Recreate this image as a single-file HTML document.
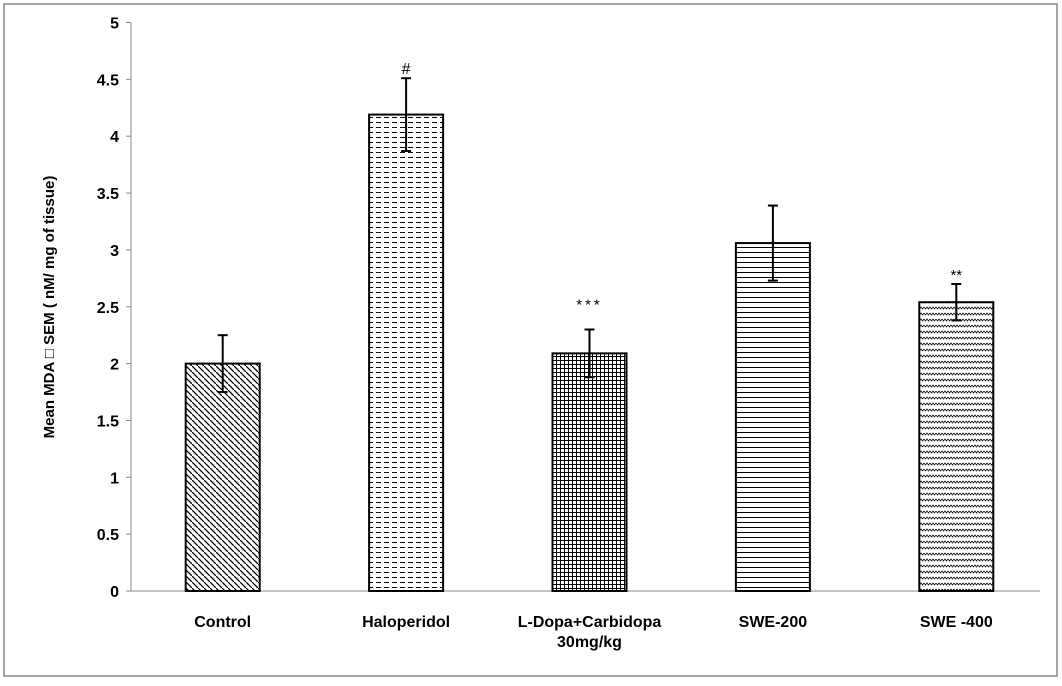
<!DOCTYPE html>
<html><head><meta charset="utf-8"><style>
body{margin:0;background:#fff;}
svg text{font-family:"Liberation Sans",Arial,sans-serif;}
</style></head><body>
<svg width="1062" height="681" xmlns="http://www.w3.org/2000/svg">
<defs>
<pattern id="p0" width="6" height="6" patternUnits="userSpaceOnUse"><rect width="6" height="6" fill="#fff"/><path d="M-1,1 L1,-1 M0,0 L6,6 M5,7 L7,5" stroke="#000" stroke-width="1.3"/></pattern>
<pattern id="p1" width="8" height="5" patternUnits="userSpaceOnUse"><rect width="8" height="5" fill="#fff"/><path d="M0,2.5 L5,2.5" stroke="#000" stroke-width="1"/></pattern>
<pattern id="p2" width="4" height="4" patternUnits="userSpaceOnUse"><rect width="4" height="4" fill="#fff"/><path d="M0,0.5 L4,0.5 M0.5,0 L0.5,4" stroke="#000" stroke-width="1"/></pattern>
<pattern id="p3" width="4" height="5" patternUnits="userSpaceOnUse"><rect width="4" height="5" fill="#fff"/><path d="M0,2.5 L4,2.5" stroke="#000" stroke-width="1"/></pattern>
<pattern id="p4" width="6" height="6" patternUnits="userSpaceOnUse"><rect width="6" height="6" fill="#fff"/><path d="M0,1 L1.5,3 L3,1 L4.5,3 L6,1" stroke="#000" stroke-width="0.8" fill="none"/></pattern>
</defs>
<rect x="4" y="4" width="1053" height="672" fill="#fff" stroke="#888" stroke-width="1.5"/>
<g id="g"></g>
<text transform="translate(54,307) rotate(-90)" text-anchor="middle" font-size="15" font-weight="bold">Mean MDA □ SEM ( nM/ mg of tissue)</text>
</svg>
<script>
const categories=["Control","Haloperidol","L-Dopa+Carbidopa|30mg/kg","SWE-200","SWE -400"];
const values=[2.0,4.19,2.09,3.06,2.54];
const errors=[0.25,0.32,0.21,0.33,0.16];
const marks=["","#","***","","**"];
const yTicks=[0,0.5,1,1.5,2,2.5,3,3.5,4,4.5,5];
const NS="http://www.w3.org/2000/svg";
const g=document.getElementById('g');
const x0=131,x1=1048,yTop=22.5,yBot=591,yMax=5;
const y=v=>yBot-(v/yMax)*(yBot-yTop);
const band=(x1-x0)/categories.length;
const xc=i=>x0+band*(i+0.5);
function el(t,a){const e=document.createElementNS(NS,t);for(const k in a)e.setAttribute(k,a[k]);g.appendChild(e);return e;}
let ax=el('line',{x1:x0,y1:yTop,x2:x0,y2:yBot,stroke:'#888','stroke-width':1});


let bx=el('line',{x1:x0,y1:yBot,x2:1040,y2:yBot,stroke:'#888','stroke-width':1});


yTicks.forEach(t=>{
  el('line',{x1:x0-5,y1:y(t),x2:x0,y2:y(t),stroke:'#888'});
  const tx=el('text',{x:x0-12,y:y(t)+6,'text-anchor':'end','font-size':16,'font-weight':'bold'});
  tx.textContent=t;
  
  
});
categories.forEach((c,i)=>{
  const cx=xc(i),w=74;
  const r=el('rect',{x:cx-w/2,y:y(values[i]),width:w,height:yBot-y(values[i]),fill:'url(#p'+i+')',stroke:'#000','stroke-width':2});
  
  
  const yt=y(values[i]+errors[i]),yb=y(values[i]-errors[i]);
  el('line',{x1:cx,y1:yt,x2:cx,y2:yb,stroke:'#000','stroke-width':2});
  el('line',{x1:cx-5,y1:yt,x2:cx+5,y2:yt,stroke:'#000','stroke-width':2});
  el('line',{x1:cx-5,y1:yb,x2:cx+5,y2:yb,stroke:'#000','stroke-width':2});
  if(marks[i]){
    const m=el('text',{x:cx,y:yt-(marks[i]=='***'?20:4),'text-anchor':'middle','font-size':marks[i]=='#'?16:15,'letter-spacing':marks[i]=='***'?3:0});
    m.textContent=marks[i];
    
    
  }
  c.split('|').forEach((ln,j)=>{
    const t=el('text',{x:cx,y:627+j*20,'text-anchor':'middle','font-size':16,'font-weight':'bold'});
    t.textContent=ln;
    
    
  });
});
</script>
</body></html>
